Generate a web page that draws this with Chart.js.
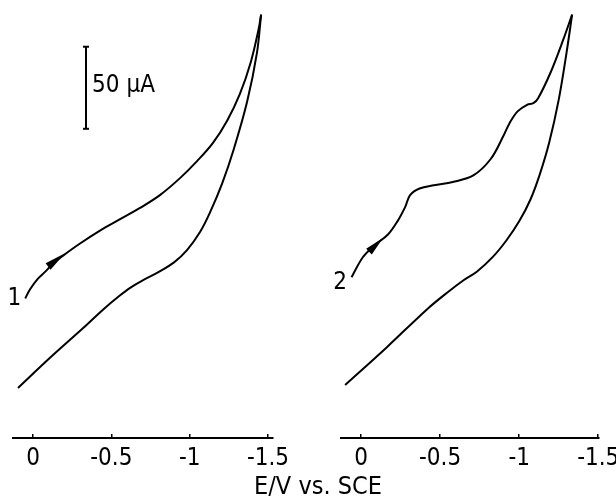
<!DOCTYPE html>
<html>
<head>
<meta charset="utf-8">
<script src="https://cdn.jsdelivr.net/npm/chart.js@4"></script>
<style>
  body { margin: 0; background: #fff; }
  #wrap { position: relative; width: 616px; height: 496px; overflow: hidden; }
  canvas { position: absolute; top: 0; }
  #c1 { left: 0; }
  #c2 { left: 316px; }
  #xtitle {
    position: absolute; left: 0; width: 636px; top: 473px;
    text-align: center; font: 25px/26px "Liberation Sans Narrow", "DejaVu Sans Condensed", sans-serif;
    color: #000;
  }
</style>
</head>
<body>
<div id="wrap">
  <canvas id="c1" width="300" height="496"></canvas>
  <canvas id="c2" width="300" height="496"></canvas>
  <div id="xtitle">E/V vs. SCE</div>
</div>
<script>
// potentials in V vs SCE, currents in µA (arbitrary zero)
const tickValues = [0, -0.5, -1, -1.5];
const tickLabels = ['0', '-0.5', '-1', '-1.5'];

// curve 1
const fwd1E = [0.05, 0.02, -0.03, -0.08, -0.13, -0.19, -0.30, -0.43, -0.55, -0.68, -0.81, -0.94, -1.05, -1.15, -1.24, -1.32, -1.39, -1.44, -1.456];
const fwd1I = [85, 90.5, 97, 101.5, 106.5, 111, 118.5, 126.5, 133, 140, 148, 158.5, 169, 180, 193.5, 209.5, 229, 249, 258];
const rev1E = [-1.456, -1.43, -1.367, -1.28, -1.207, -1.13, -1.066, -0.983, -0.90, -0.80, -0.70, -0.62, -0.55, -0.45, -0.32, -0.11, 0.096];
const rev1I = [258, 235, 205, 175.5, 155, 137.5, 125.5, 114.5, 107, 101, 96, 91.5, 86.5, 78.5, 67, 49, 30.5];

// curve 2
const fwd2E = [0.06, -0.01, -0.08, -0.17, -0.23, -0.28, -0.31, -0.37, -0.46, -0.58, -0.71, -0.82, -0.90, -0.94, -0.99, -1.05, -1.09, -1.12, -1.20, -1.28, -1.335];
const fwd2I = [98, 110, 117, 124, 132, 141, 148, 152, 154, 156, 160, 170, 184, 192, 199, 203, 204, 207, 223, 243, 258];
const rev2E = [-1.335, -1.30, -1.25, -1.19, -1.13, -1.07, -1.00, -0.92, -0.835, -0.734, -0.646, -0.55, -0.418, -0.165, 0.101];
const rev2I = [258, 235, 206, 180, 160.5, 145, 132, 120.5, 110.5, 101.5, 96, 89, 78.5, 55.5, 32.3];

// 50 µA scale bar
const barE = [-0.338, -0.338];
const barI = [188.4, 238.4];

const FONT = '"Liberation Sans Narrow", "DejaVu Sans Condensed", sans-serif';

function pts(es, is) {
  return es.map((e, k) => ({ x: e, y: is[k] }));
}

function line(es, is) {
  return {
    data: pts(es, is),
    showLine: true,
    borderColor: '#000',
    borderWidth: 2,
    pointRadius: 0,
    tension: 0.35,
    fill: false
  };
}

// arrow heads and text labels, placed in data units
const cvMarks = {
  id: 'cvMarks',
  afterDatasetsDraw(chart, args, opts) {
    const ctx = chart.ctx;
    const xs = chart.scales.x, ys = chart.scales.y;
    ctx.save();
    if (opts.arrow) {
      const a = opts.arrow;
      const x0 = xs.getPixelForValue(a.from[0]), y0 = ys.getPixelForValue(a.from[1]);
      const x1 = xs.getPixelForValue(a.to[0]), y1 = ys.getPixelForValue(a.to[1]);
      const ang = Math.atan2(y1 - y0, x1 - x0);
      const len = Math.hypot(x1 - x0, y1 - y0);
      ctx.translate(x1, y1);
      ctx.rotate(ang);
      ctx.beginPath();
      ctx.moveTo(0, 0);
      ctx.lineTo(-len, -4);
      ctx.lineTo(-len, 4);
      ctx.closePath();
      ctx.fillStyle = '#000';
      ctx.fill();
      ctx.setTransform(1, 0, 0, 1, 0, 0);
    }
    ctx.fillStyle = '#000';
    ctx.textBaseline = 'middle';
    (opts.labels || []).forEach(l => {
      ctx.font = l.size + 'px ' + FONT;
      ctx.textAlign = l.align || 'center';
      ctx.fillText(l.text, xs.getPixelForValue(l.e), ys.getPixelForValue(l.i));
    });
    ctx.restore();
  }
};

function makeChart(id, eMin, eMax, padL, padR, datasets, marks) {
  return new Chart(document.getElementById(id), {
    type: 'scatter',
    data: { datasets: datasets },
    options: {
      responsive: false,
      animation: false,
      events: [],
      layout: { padding: { left: padL, right: padR, top: 8, bottom: 0 } },
      plugins: { legend: { display: false }, tooltip: { enabled: false }, cvMarks: marks },
      scales: {
        x: {
          type: 'linear',
          reverse: true,
          min: eMin,
          max: eMax,
          afterBuildTicks(scale) { scale.ticks = tickValues.map(v => ({ value: v })); },
          afterFit(scale) { scale.height = 58; scale.paddingLeft = 0; scale.paddingRight = 0; },
          border: { display: true, color: '#000', width: 2 },
          grid: { drawOnChartArea: false, drawTicks: true, tickLength: -4, color: '#000', lineWidth: 1.5 },
          ticks: {
            color: '#000',
            padding: 10,
            maxRotation: 0,
            font: { family: FONT, size: 24 },
            callback(v) { const k = tickValues.indexOf(v); return k < 0 ? '' : tickLabels[k]; }
          }
        },
        y: { type: 'linear', display: false, min: 0, max: 262 }
      }
    },
    plugins: [cvMarks]
  });
}

const bar = {
  data: pts(barE, barI),
  showLine: true,
  borderColor: '#000',
  borderWidth: 2,
  pointStyle: 'line',
  pointRadius: 3,
  pointBorderWidth: 2,
  pointBorderColor: '#000'
};

makeChart('c1', -1.532, 0.128, 13, 27,
  [line(fwd1E, fwd1I), line(rev1E, rev1I), bar],
  {
    arrow: { from: [-0.096, 104.5], to: [-0.204, 112.5] },
    labels: [
      { text: '1', e: 0.12, i: 84.8, size: 24 },
      { text: '50 µA', e: -0.377, i: 214.6, size: 24, align: 'left' }
    ]
  });

makeChart('c2', -1.505, 0.127, 25, 17,
  [line(fwd2E, fwd2I), line(rev2E, rev2I)],
  {
    arrow: { from: [-0.05, 113.5], to: [-0.14, 122] },
    labels: [
      { text: '2', e: 0.133, i: 94.5, size: 24 }
    ]
  });
</script>
</body>
</html>
